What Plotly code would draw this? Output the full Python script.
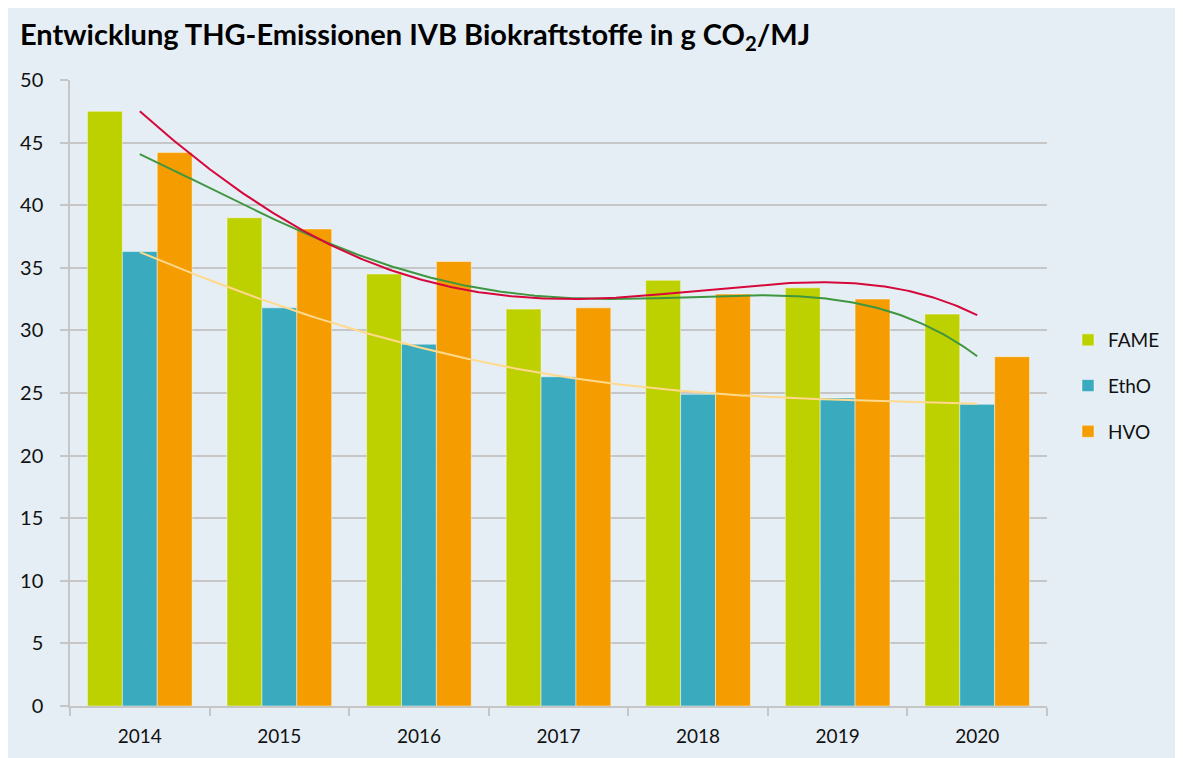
import numpy as np
import plotly.graph_objects as go

years = ["2014", "2015", "2016", "2017", "2018", "2019", "2020"]
fame = [47.5, 39.0, 34.5, 31.7, 34.0, 33.4, 31.3]
etho = [36.3, 31.8, 28.9, 26.3, 24.9, 24.6, 24.1]
hvo = [44.2, 38.1, 35.5, 31.8, 32.9, 32.5, 27.9]

series = [("FAME", fame, "#BDD000"), ("EthO", etho, "#3AABBF"), ("HVO", hvo, "#F59C00")]
trend_colors = {"FAME": "#D6083B", "EthO": "#FFD98C", "HVO": "#3F9640"}
trend_order = ["EthO", "HVO", "FAME"]
trend_degree = 4

# page body has an 8px margin; the figure starts at (8, 8) on screen
OFF = 8
W, H = 1183, 758
X0, X1, Y0, Y1 = 70 - OFF, 1047 - OFF, 80 - OFF, 706 - OFF
ML, MR, MT, MB = X0, W - X1, Y0, H - Y1
PW, PH = X1 - X0, Y1 - Y0

fig = go.Figure()
for name, vals, col in series:
    fig.add_trace(go.Bar(
        x=years, y=vals, name=name,
        marker=dict(color=col, line=dict(color="rgba(255,255,255,0.45)", width=1)),
        legendgroup=name, hoverinfo="y",
    ))

xi = np.arange(len(years))
xs = np.linspace(0, len(years) - 1, 300)
data_map = {n: v for n, v, c in series}
for name in trend_order:
    coef = np.polyfit(xi, data_map[name], trend_degree)
    fig.add_trace(go.Scatter(
        x=xs, y=np.polyval(coef, xs), mode="lines", xaxis="x2",
        line=dict(color=trend_colors[name], width=2),
        showlegend=False, hoverinfo="skip",
    ))

grid = "#C6C6C6"
font = "Lato, 'Open Sans', sans-serif"
txt = "#111111"

fig.update_layout(
    width=W, height=H,
    margin=dict(l=ML, r=MR, t=MT, b=MB, pad=0),
    paper_bgcolor="#E5EEF4",
    plot_bgcolor="#E5EEF4",
    barmode="group", bargap=0.25, bargroupgap=0,
    font=dict(family=font, size=19, color=txt),
    title=dict(
        text="Entwicklung THG-Emissionen IVB Biokraftstoffe in g CO<sub>2</sub>/MJ",
        xref="container", yref="container",
        x=(20 - OFF) / W, y=1 - (35 - OFF) / H, xanchor="left", yanchor="middle",
        font=dict(family=font, size=29, color="#000000", weight="bold"),
    ),
    xaxis=dict(
        type="category", range=[-0.5, 6.5], tickson="boundaries",
        ticks="outside", ticklen=8, tickcolor=grid, tickwidth=1.5,
        showline=True, linecolor=grid, linewidth=1.5,
        showgrid=False, zeroline=False,
        tickfont=dict(size=19, color=txt),
        ticklabelstandoff=12,
    ),
    xaxis2=dict(overlaying="x", range=[-0.5, 6.5], visible=False),
    yaxis=dict(
        range=[0, 50], dtick=5, tick0=0,
        ticks="outside", ticklen=8, tickcolor=grid, tickwidth=1.5,
        showgrid=True, gridcolor=grid, gridwidth=1.5,
        showline=True, linecolor=grid, linewidth=1.5,
        zeroline=False,
        tickfont=dict(size=20, color=txt),
        ticklabelstandoff=13,
    ),
    legend=dict(
        x=(1068 - 70) / PW, y=(706 - 386) / PH, xanchor="left", yanchor="middle",
        bgcolor="rgba(0,0,0,0)", font=dict(size=19, color=txt),
        traceorder="grouped", tracegroupgap=18,
    ),
)

fig.write_html(
    "out.html",
    post_script="document.documentElement.style.overflow='hidden';"
                "document.body.style.overflow='hidden';",
)
